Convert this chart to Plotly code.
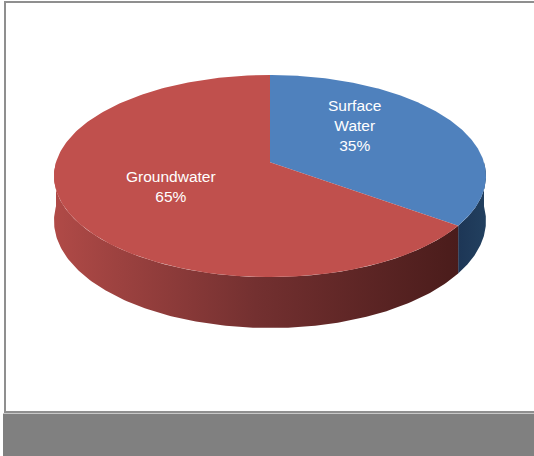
import numpy as np
import plotly.graph_objects as go

labels = ["Surface Water", "Groundwater"]
values = [35, 65]
top_colors = ["#4f81bd", "#c0504d"]
side_scales = [
    [[0, "#1d3656"], [1, "#22405f"]],
    [[0, "#b04a47"], [0.5, "#733030"], [1, "#4a1c1b"]],
]

# geometry of the drawn pie (pixel-space axes), with a mild perspective k
cx, cy, rx, ry, depth, k = 270, 162.3, 214, 99.2, 44, 0.136

fig = go.Figure()

def pt(theta_deg, down=0.0):
    t = np.radians(theta_deg)
    s = 1.0 / (1.0 + k * np.sin(t))
    return cx + rx * np.cos(t) * s, cy + (-ry * np.sin(t) + down) * s

total = sum(values)
start = 90.0
slices = []
for lab, v in zip(labels, values):
    sweep = 360.0 * v / total
    slices.append((lab, start, start - sweep))
    start -= sweep

# sides (front half only, angles in [-180, 0])
for i, (lab, a0, a1) in enumerate(slices):
    lo, hi = min(a0, a1), max(a0, a1)
    for shift in (0, -360, 360):
        l, h = lo + shift, hi + shift
        s0, s1 = max(l, -180), min(h, 0)
        if s1 > s0:
            th = np.linspace(s0, s1, 160)
            xs, ys = pt(th)
            xb, yb = pt(th, depth)
            px = np.concatenate([xs, xb[::-1]])
            py = np.concatenate([ys, yb[::-1]])
            fig.add_trace(go.Scatter(
                x=px, y=py, mode="lines", fill="toself",
                line=dict(width=0),
                fillgradient=dict(type="horizontal", colorscale=side_scales[i]),
                hoverinfo="skip", showlegend=False))

# top faces
for i, (lab, a0, a1) in enumerate(slices):
    th = np.linspace(a0, a1, 240)
    xs, ys = pt(th)
    px = np.concatenate([[cx], xs, [cx]])
    py = np.concatenate([[cy], ys, [cy]])
    fig.add_trace(go.Scatter(
        x=px, y=py, mode="lines", fill="toself",
        line=dict(width=0), fillcolor=top_colors[i],
        hoverinfo="skip", showlegend=False, name=lab))

label_text = {
    "Surface Water": "Surface<br>Water<br>%d%%" % values[0],
    "Groundwater": "Groundwater<br>%d%%" % values[1],
}
label_pos = {"Surface Water": (354, 125), "Groundwater": (171, 186)}
for lab in labels:
    x, y = label_pos[lab]
    fig.add_annotation(x=x, y=y, text=label_text[lab], showarrow=False,
                       font=dict(family="Liberation Sans, Arial", size=15.5, color="white"),
                       align="center", xanchor="center", yanchor="middle")

shapes = [
    dict(type="rect", xref="paper", yref="paper", x0=5 / 534, x1=1.02,
         y0=1 - 412 / 456, y1=1 - 2 / 456,
         line=dict(color="#8f8f8f", width=2), fillcolor="rgba(0,0,0,0)", layer="below"),
    dict(type="rect", xref="paper", yref="paper", x0=3 / 534, x1=1.0,
         y0=0, y1=1 - 413 / 456,
         line=dict(width=0), fillcolor="#808080", layer="above"),
    dict(type="line", xref="paper", yref="paper", x0=3 / 534, x1=1.0,
         y0=1 - 413.5 / 456, y1=1 - 413.5 / 456,
         line=dict(color="#c8c8c8", width=1), layer="above"),
]

fig.update_layout(
    width=534, height=456,
    margin=dict(l=0, r=0, t=0, b=0),
    paper_bgcolor="white", plot_bgcolor="white",
    xaxis=dict(range=[0, 534], visible=False, fixedrange=True),
    yaxis=dict(range=[456, 0], visible=False, fixedrange=True),
    shapes=shapes,
    showlegend=False,
)

fig.write_html(
    "out.html",
    config={"displayModeBar": False},
    post_script="document.body.style.margin='0';document.body.style.overflow='hidden';",
)
